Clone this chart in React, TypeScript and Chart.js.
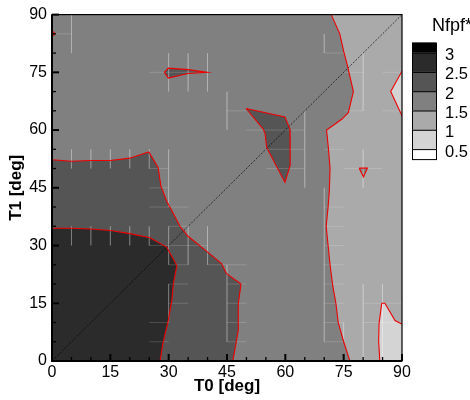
import React, { useEffect, useRef } from "react";
import { Chart, registerables } from "chart.js";

Chart.register(...registerables);

// ---------- text ----------
const X_TITLE = "T0 [deg]";
const Y_TITLE = "T1 [deg]";
const LEGEND_TITLE = "Nfpf*";

// ---------- axes ----------
const AXIS_MIN = 0;
const AXIS_MAX = 90;
const MAJOR_STEP = 15;
const MINOR_STEP = 5;

// ---------- contour levels (legend, top to bottom) ----------
const LEVELS = [3, 2.5, 2, 1.5, 1, 0.5];
// band colours: >3, 2.5-3, 2-2.5, 1.5-2, 1-1.5, 0.5-1, <0.5
const BAND_COLORS = ["#000000", "#2b2b2b", "#555555", "#808080", "#aaaaaa", "#d4d4d4", "#ffffff"];

type P = [number, number];

// ---------- contour lines (T0, T1) ----------
const DOMAIN: P[] = [[0, 0], [90, 0], [90, 90], [0, 90]];
// level 1.5 (right side)
const C_RIGHT: P[] = [
  [71.8, 90], [74, 85], [75, 80.5], [75.9, 77], [77.5, 70], [76.2, 64.5], [74.5, 62.8],
  [70.6, 60], [71.1, 55], [71.5, 50], [71.3, 44], [71, 40], [70.5, 35], [71, 30],
  [71.5, 25], [72.2, 19.5], [73, 15], [73.6, 10], [75, 5], [76.6, 0],
];
// level 2 (lower left)
const C_DARK: P[] = [
  [0, 52.3], [5, 51.9], [10, 52.1], [15, 52.1], [20, 52.7], [24.9, 54.3], [27.3, 50.2],
  [28, 45.5], [29.5, 41.5], [31.2, 38.3], [32.9, 35], [35, 32.4], [39.8, 28.5],
  [43.6, 25.3], [44.9, 22.7], [48.6, 20], [47.9, 14.8], [47.9, 8], [47.3, 4.5], [46.5, 0],
];
// level 2.5 (lower left corner)
const C_DARKEST: P[] = [
  [0, 34.5], [5, 34.5], [10, 34.3], [15, 33.9], [20, 33.1], [25.2, 32], [29.5, 29.6],
  [32.1, 24.8], [31.2, 20], [30.8, 15.7], [29.9, 10.5], [28.5, 4.5], [27.8, 0],
];
// level 2 islands
const ISLAND_A: P[] = [
  [49.9, 65.6], [59.9, 63.4], [61.2, 60.2], [61.3, 55.5], [61.2, 50.8], [59.9, 46.4],
  [55.2, 55.5], [54.8, 59], [54.3, 60.3], [49.9, 65.6],
];
const ISLAND_B: P[] = [
  [28.9, 75], [29.9, 76.1], [35, 75.7], [39.9, 75], [35, 74.7], [29.9, 73.5], [28.9, 75],
];
const EDGE_SPOT: P[] = [[0, 85.8], [0.8, 85], [0, 84.3]];
// level 1 (right edge)
const WEDGE_RIGHT: P[] = [[90, 75.3], [87.1, 70], [90, 63.7]];
const CORNER_BR: P[] = [
  [84.3, 0], [84, 5], [84.1, 9.7], [84.8, 15], [85.6, 15], [88.2, 10.5], [89.9, 9.6], [90, 9.6],
];
// level 1.5 spot inside light area
const SPOT_MID: P[] = [[79, 50.1], [81.1, 50.1], [80.1, 47.8], [79, 50.1]];

// diagonal T0 = T1
const DIAGONAL: P[] = [[0, 0], [90, 90]];

// faint mesh cell edges [x1, y1, x2, y2]
const MESH: number[][] = [
  [5, 90, 5, 80], [0, 85, 5, 85],
  [25, 75, 40, 75], [30, 80, 30, 70], [35, 80, 35, 70], [40, 80, 40, 70],
  [45, 70, 45, 60], [45, 65, 50, 65],
  [5, 55, 5, 50], [10, 55, 10, 50], [15, 55, 15, 50], [20, 55, 20, 50], [25, 55, 25, 50], [30, 55, 30, 40],
  [25, 50, 30, 50], [25, 45, 30, 45], [25, 40, 35, 40],
  [5, 35, 5, 30], [10, 35, 10, 30], [15, 35, 15, 30], [20, 35, 20, 30],
  [25, 35, 25, 30], [30, 35, 30, 25], [35, 35, 35, 25], [40, 35, 40, 25],
  [25, 30, 40, 30], [30, 35, 35, 35], [30, 25, 35, 25], [40, 25, 50, 25],
  [45, 25, 45, 5], [30, 20, 35, 20], [45, 20, 50, 20], [30, 15, 35, 15], [45, 15, 50, 15],
  [25, 10, 30, 10], [45, 10, 50, 10], [25, 5, 30, 5], [45, 5, 50, 5], [30, 20, 30, 10],
  [75, 75, 80, 75], [85, 75, 90, 75], [75, 65, 80, 65], [85, 65, 90, 65], [80, 80, 80, 65],
  [70, 85, 70, 80], [70, 80, 75, 80],
  [50, 60, 65, 60], [55, 55, 65, 55], [55, 50, 65, 50], [65, 65, 65, 45],
  [70, 55, 75, 55], [75, 50, 85, 50], [80, 55, 80, 45], [70, 45, 70, 40],
  [70, 40, 70, 5], [70, 40, 75, 40], [70, 35, 75, 35], [70, 30, 75, 30], [70, 25, 75, 25],
  [70, 20, 75, 20], [70, 15, 75, 15], [70, 10, 75, 10], [70, 5, 75, 5], [75, 10, 75, 5],
  [80, 20, 80, 0], [85, 20, 85, 0], [80, 15, 90, 15], [80, 10, 90, 10],
];

const FONT = "'Liberation Sans', Arial, Helvetica, sans-serif";
const RED = "#ee0000";

const pts = (a: P[]) => a.map(([x, y]) => ({ x, y }));

function fillSet(poly: P[], color: string, order: number) {
  return {
    data: pts(poly),
    backgroundColor: color,
    borderColor: "transparent",
    borderWidth: 0,
    pointRadius: 0,
    fill: "shape",
    tension: 0,
    order,
  };
}
function lineSet(poly: P[], color: string, width: number, order: number, dash: number[] = []) {
  return {
    data: pts(poly),
    borderColor: color,
    borderWidth: width,
    borderDash: dash,
    pointRadius: 0,
    fill: false,
    tension: 0,
    order,
  };
}

const framePlugin = {
  id: "frameTicksLegend",
  afterDatasetsDraw(chart: any) {
    const { ctx, chartArea: a, scales } = chart;
    const xs = scales.x;
    const ys = scales.y;
    ctx.save();
    ctx.strokeStyle = "#000";
    // inward ticks
    for (let v = AXIS_MIN; v <= AXIS_MAX; v += MINOR_STEP) {
      const major = v % MAJOR_STEP === 0;
      const len = major ? 7 : 4;
      ctx.lineWidth = major ? 2 : 1.3;
      const px = xs.getPixelForValue(v);
      ctx.beginPath();
      ctx.moveTo(px, a.bottom);
      ctx.lineTo(px, a.bottom - len);
      ctx.stroke();
      const py = ys.getPixelForValue(v);
      ctx.beginPath();
      ctx.moveTo(a.left, py);
      ctx.lineTo(a.left + len, py);
      ctx.stroke();
    }
    // frame
    ctx.lineWidth = 1.2;
    ctx.strokeRect(a.left, a.top, a.right - a.left, a.bottom - a.top);
    ctx.lineWidth = 2;
    ctx.beginPath();
    ctx.moveTo(a.left, a.top);
    ctx.lineTo(a.left, a.bottom);
    ctx.lineTo(a.right, a.bottom);
    ctx.stroke();

    // legend
    const lx = a.right + 10;
    const lw = 24;
    const endH = 10;
    const midH = 19.3;
    let y = a.top + 28;
    ctx.fillStyle = "#000";
    ctx.font = `18px ${FONT}`;
    ctx.textAlign = "left";
    ctx.textBaseline = "alphabetic";
    ctx.fillText(LEGEND_TITLE, a.right + 30, a.top + 16);
    const bounds: number[] = [];
    BAND_COLORS.forEach((c, i) => {
      const h = i === 0 || i === BAND_COLORS.length - 1 ? endH : midH;
      ctx.fillStyle = c;
      ctx.fillRect(lx, y, lw, h);
      ctx.lineWidth = 1;
      ctx.strokeStyle = "#000";
      ctx.strokeRect(lx + 0.5, y + 0.5, lw, h);
      y += h;
      if (i < BAND_COLORS.length - 1) bounds.push(y);
    });
    ctx.fillStyle = "#000";
    ctx.font = `16.5px ${FONT}`;
    ctx.textBaseline = "middle";
    LEVELS.forEach((lv, i) => {
      ctx.fillText(String(lv), lx + 33, bounds[i] + 3);
    });
    ctx.restore();
  },
};

export default function App() {
  const ref = useRef<HTMLCanvasElement | null>(null);
  useEffect(() => {
    if (!ref.current) return;
    Chart.defaults.font.family = FONT;
    const meshData: any[] = [];
    MESH.forEach(([x1, y1, x2, y2]) => {
      meshData.push({ x: x1, y: y1 }, { x: x2, y: y2 }, { x: x2, y: null });
    });
    const datasets: any[] = [
      fillSet(DOMAIN, BAND_COLORS[3], 100),
      fillSet([...C_RIGHT, [90, 0], [90, 90]], BAND_COLORS[4], 90),
      fillSet(WEDGE_RIGHT, BAND_COLORS[5], 85),
      fillSet([...CORNER_BR, [90, 0]], BAND_COLORS[5], 85),
      fillSet(SPOT_MID, BAND_COLORS[3], 84),
      fillSet([[0, 0], ...C_DARK], BAND_COLORS[2], 80),
      fillSet([[0, 0], ...C_DARKEST], BAND_COLORS[1], 75),
      fillSet(ISLAND_A, BAND_COLORS[2], 70),
      fillSet(ISLAND_B, BAND_COLORS[2], 70),
      fillSet(EDGE_SPOT, BAND_COLORS[2], 70),
      {
        data: meshData,
        borderColor: "rgba(255,255,255,0.16)",
        borderWidth: 1,
        pointRadius: 0,
        fill: false,
        spanGaps: false,
        order: 50,
      },
      lineSet(DIAGONAL, "rgba(0,0,0,0.85)", 0.8, 20, [2, 1.5]),
      lineSet(C_RIGHT, RED, 1.1, 10),
      lineSet(C_DARK, RED, 1.1, 10),
      lineSet(C_DARKEST, RED, 1.1, 10),
      lineSet(ISLAND_A, RED, 1.1, 10),
      lineSet(ISLAND_B, RED, 1.1, 10),
      lineSet(EDGE_SPOT, RED, 1.1, 10),
      lineSet(WEDGE_RIGHT, RED, 1.1, 10),
      lineSet(CORNER_BR, RED, 1.1, 10),
      lineSet(SPOT_MID, RED, 1.1, 10),
    ];
    const chart = new Chart(ref.current, {
      type: "line",
      data: { datasets },
      options: {
        responsive: false,
        animation: false,
        events: [],
        layout: { padding: { left: 6, right: 68, top: 11, bottom: 0 } },
        plugins: { legend: { display: false }, tooltip: { enabled: false } },
        scales: {
          x: {
            type: "linear",
            min: AXIS_MIN,
            max: AXIS_MAX,
            grid: { display: false, drawTicks: false },
            border: { display: false },
            ticks: { stepSize: MAJOR_STEP, color: "#000", font: { size: 16 }, padding: 2, maxRotation: 0 },
            title: { display: true, text: X_TITLE, color: "#000", font: { size: 17, weight: "bold" }, padding: { top: 0, bottom: 3 } },
            afterFit: (s: any) => { s.height = 39; },
          },
          y: {
            type: "linear",
            min: AXIS_MIN,
            max: AXIS_MAX,
            grid: { display: false, drawTicks: false },
            border: { display: false },
            ticks: { stepSize: MAJOR_STEP, color: "#000", font: { size: 16 }, padding: 5 },
            title: { display: true, text: Y_TITLE, color: "#000", font: { size: 17, weight: "bold" }, padding: { top: 0, bottom: 0 } },
            afterFit: (s: any) => { s.width = 46; },
          },
        },
      },
      plugins: [framePlugin],
    } as any);
    return () => chart.destroy();
  }, []);
  return (
    <div style={{ position: "absolute", left: 0, top: 0, width: 470, height: 400, background: "#fff" }}>
      <canvas ref={ref} width={470} height={400} />
    </div>
  );
}
